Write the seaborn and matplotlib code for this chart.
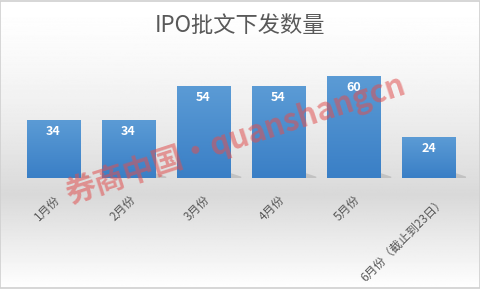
import numpy as np
import pandas as pd
import matplotlib
matplotlib.use("Agg")
import matplotlib.pyplot as plt
import matplotlib.transforms as mtransforms
import seaborn as sns

categories = ["1月份", "2月份", "3月份", "4月份", "5月份", "6月份（截止到23日）"]
values = [34, 34, 54, 54, 60, 24]
title = "IPO批文下发数量"
watermark = "券商中国·quanshangcn"

sns.set_theme(style="white")
plt.rcParams['font.family'] = ['Noto Sans CJK SC', 'DejaVu Sans']

W, H = 481, 289
fig = plt.figure(figsize=(W / 100, H / 100), dpi=100)

# background gradient
bg = fig.add_axes([0, 0, 1, 1], zorder=0)
ys = np.linspace(0, 1, 300)  # 0 = top
g = np.ones_like(ys)
for i, y in enumerate(ys):
    py = y * H
    if py < 195:
        g[i] = 1.0 - 0.15 * (py / 195) ** 1.5
    else:
        g[i] = 0.85 + 0.15 * ((py - 195) / (H - 195))
img = np.repeat(g[:, None], 2, axis=1)
bg.imshow(img, cmap="gray", vmin=0, vmax=1, aspect="auto", extent=[0, 1, 0, 1])
bg.set_xlim(0, 1); bg.set_ylim(0, 1)
bg.axis("off")
bg.add_patch(plt.Rectangle((0.001, 0.002), 0.997, 0.995, fill=False, ec="#d0d0d0", lw=1.2))

left, right = 16 / W, 466 / W
bottom, top = 1 - 178 / H, 1 - (178 - 70 * 1.7) / H
ax = fig.add_axes([left, bottom, right - left, top - bottom], zorder=1)
ax.patch.set_alpha(0)

df = pd.DataFrame({"month": categories, "count": values})
sns.barplot(data=df, x="month", y="count", color="#4a8dd3", width=0.707,
            saturation=1, ax=ax, zorder=3, linewidth=0)

# gradient fill for bars + shadows
from matplotlib.colors import LinearSegmentedColormap
cmap = LinearSegmentedColormap.from_list("bluegrad", ["#3a7fc6", "#5b9bd5"])
grad = np.linspace(0, 1, 100)[:, None]
for p in list(ax.patches):
    x0, wdt, h = p.get_x(), p.get_width(), p.get_height()
    im = ax.imshow(grad, cmap=cmap, origin="lower", aspect="auto",
                   extent=[x0, x0 + wdt, 0, h], zorder=3.5)
    im.set_clip_path(p)
    ax.add_patch(plt.Polygon([(x0 + wdt, 0), (x0 + wdt, 3), (x0 + wdt + 0.15, 0.8), (x0 + wdt + 0.15, 0)],
                             closed=True, color="#a8a8a8", alpha=0.5, zorder=2, lw=0))
ax.set_xlim(-0.5, 5.5)
ax.set_ylim(0, 70)

for i, v in enumerate(values):
    ax.text(i, v - 6.5, str(v), ha="center", va="center", color="white",
            fontsize=9, fontweight="bold", zorder=4)

ax.set_xlabel("")
ax.set_ylabel("")
ax.set_yticks([])
for s in ax.spines.values():
    s.set_visible(False)
ax.tick_params(axis="x", length=0, pad=11)
ax.set_xticks(range(len(categories)))
labels = ax.set_xticklabels(categories, rotation=45, ha="right", rotation_mode="anchor",
                            fontsize=8.5, color="#595959")
labels[-1].set_transform(labels[-1].get_transform() +
                         mtransforms.ScaledTranslation(10 / 100, -1 / 100, fig.dpi_scale_trans))

fig.text(0.5, 1 - 25 / H, title, ha="center", va="center", fontsize=16, color="#595959")

fig.text(235 / W, 1 - 139 / H, watermark, ha="center", va="center", fontsize=22,
         fontweight="bold", color="#e05050", alpha=0.55, rotation=18, zorder=5)

fig.savefig("out.png", dpi=100)
